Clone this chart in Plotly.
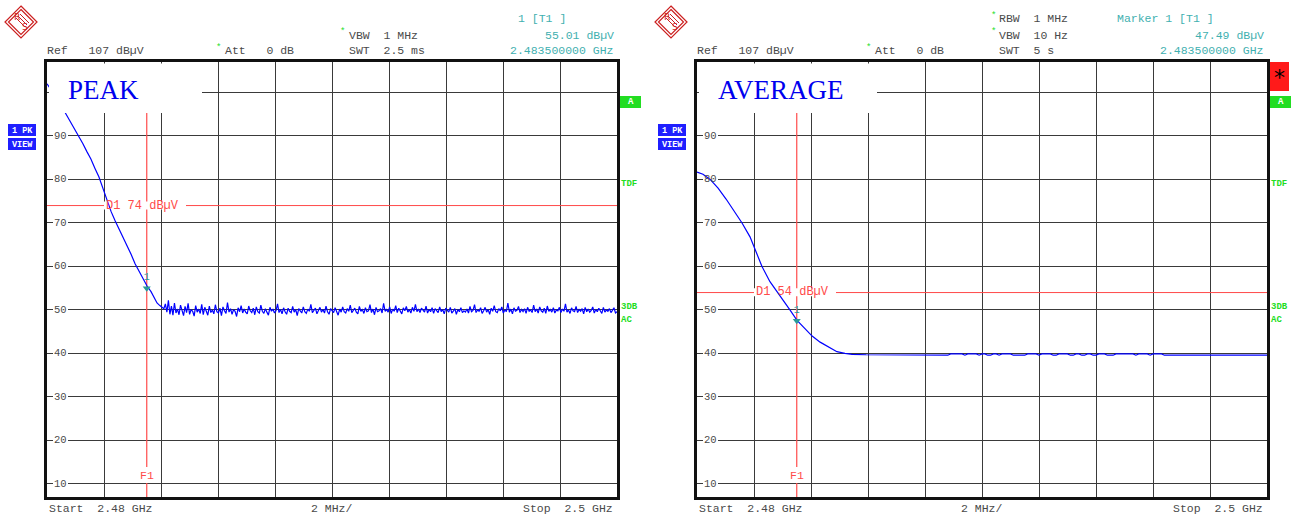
import numpy as np
import plotly.graph_objects as go

W, H = 1301, 516

# ---------------- data ----------------
# PEAK trace: roll-off part (MHz, dBuV)
peak_slope_freq = [2480.00, 2480.18, 2480.35, 2480.53, 2480.67, 2480.81, 2480.98, 2481.12,
                   2481.26, 2481.40, 2481.54, 2481.68, 2481.82, 2481.96, 2482.11, 2482.25,
                   2482.39, 2482.53, 2482.67, 2482.81, 2482.95, 2483.09, 2483.23, 2483.37,
                   2483.51, 2483.65, 2483.75, 2483.86, 2483.96, 2484.04]
peak_slope_val = [102.0, 100.4, 98.6, 96.6, 95.0, 93.4, 91.5, 90.0,
                  88.2, 86.4, 84.7, 82.6, 80.6, 78.0, 75.0, 72.6,
                  70.5, 68.6, 66.5, 64.7, 62.8, 60.6, 58.8, 57.0,
                  55.5, 54.2, 52.8, 51.6, 51.0, 50.6]
# PEAK trace: noise floor sweep points from 2484.10 to 2500 MHz
peak_noise_start, peak_noise_stop = 2484.10, 2500.0
peak_noise_val = [
    50.3, 51.4, 49.5, 52.2, 49.0, 50.9, 48.8, 51.6, 49.3, 50.2, 48.9, 51.1, 49.6, 48.7, 50.8, 49.4, 51.5, 49.0, 50.1, 49.7,
    48.6, 51.0, 49.5, 50.2, 49.2, 51.3, 48.9, 50.6, 49.7, 48.8, 50.9, 49.4, 50.0, 49.1, 51.2, 49.6, 49.3, 50.4, 48.7, 50.7,
    49.8, 49.2, 51.7, 49.5, 50.3, 49.0, 50.1, 49.7, 48.5, 50.5, 49.6, 51.0, 49.3, 50.2, 49.5, 49.1, 50.9, 49.8, 49.4, 50.4,
    48.9, 50.7, 49.6, 49.3, 51.1, 49.7, 49.2, 50.3, 49.5, 48.8, 50.6, 49.7, 50.2, 49.3, 49.8, 51.4, 49.4, 50.1, 49.1, 50.5,
    49.6, 49.0, 50.4, 49.7, 49.4, 50.8, 49.5, 50.1, 48.7, 50.3, 49.8, 49.3, 50.7, 49.6, 49.2, 50.2, 49.7, 51.3, 49.4, 49.8,
    50.4, 49.1, 49.7, 50.6, 49.5, 50.1, 49.3, 50.9, 49.6, 49.0, 50.3, 49.8, 49.4, 50.5, 49.7, 48.8, 50.2, 49.5, 50.7, 49.6,
    49.3, 50.3, 49.7, 51.1, 49.4, 49.8, 50.4, 49.5, 49.1, 50.8, 49.7, 50.1, 49.2, 50.5, 49.6, 49.8, 51.2, 49.4, 50.2, 48.9,
    50.6, 49.6, 49.8, 50.3, 49.3, 51.5, 49.7, 50.1, 49.5, 50.7, 49.2, 50.2, 49.7, 51.0, 49.4, 50.4, 49.6, 49.1, 50.5, 49.8,
    50.8, 49.5, 50.1, 49.3, 50.6, 49.7, 51.3, 49.6, 50.2, 49.4, 50.4, 49.8, 49.5, 50.9, 49.3, 50.1, 49.6, 50.5, 49.2, 50.3,
    49.7, 49.4, 50.7, 49.6, 50.1, 49.1, 50.4, 49.8, 49.5, 50.6, 49.3, 49.7, 50.3, 49.0, 50.1, 49.6, 50.5, 49.4, 49.8, 49.5,
    50.2, 49.3, 50.8, 49.6, 49.9, 51.2, 49.4, 50.0, 49.7, 50.5, 49.2, 49.8, 50.6, 49.5, 50.1, 49.0, 50.4, 49.7, 51.0, 49.6,
    49.4, 50.3, 49.8, 50.7, 49.3, 50.0, 49.6, 51.6, 49.5, 50.2, 49.1, 50.5, 49.7, 49.9, 50.8, 49.4, 50.1, 49.6, 50.3, 49.2,
    50.6, 49.7, 50.0, 49.4, 51.1, 49.6, 50.2, 49.3, 50.7, 49.8, 49.5, 50.4, 49.2, 50.9, 49.7, 50.1, 49.5, 50.5, 49.3, 50.0,
    49.8, 50.6, 49.4, 50.2, 49.7, 51.4, 49.5, 50.0, 49.2, 50.5, 49.8, 49.6, 50.8, 49.4, 50.1, 49.7, 50.3, 49.1, 50.6, 49.6,
    50.2, 49.5, 49.9, 50.7, 49.3, 50.1, 49.6, 50.4, 49.8, 49.2, 50.6, 49.5, 50.0, 49.7, 50.3, 49.4, 49.9, 50.5, 49.3, 49.6,
]

# AVERAGE trace: roll-off part
avg_slope_freq = [2480.00, 2480.21, 2480.46, 2480.74, 2481.02, 2481.30, 2481.58, 2481.86,
                  2482.04, 2482.28, 2482.56, 2482.84, 2483.09, 2483.26, 2483.51, 2483.79,
                  2484.04, 2484.32, 2484.67, 2484.91, 2485.19, 2485.44, 2485.93]
avg_slope_val = [81.7, 81.2, 80.0, 78.0, 75.5, 72.8, 70.0, 66.8,
                 64.0, 60.0, 56.5, 54.0, 51.5, 50.0, 47.6, 45.6,
                 44.0, 42.6, 41.2, 40.4, 40.0, 39.8, 39.7]
# AVERAGE trace: floor sweep points from 2486 to 2500 MHz
avg_tail_start, avg_tail_stop = 2486.0, 2500.0
avg_tail_val = (
    [39.7, 39.7, 39.65, 39.65, 39.6] + [39.6] * 24 +
    [39.9, 39.9, 39.9, 39.9, 39.9, 39.6, 39.9, 39.9, 39.9, 39.9,
     39.6, 39.9, 39.9, 39.6, 39.6, 39.9, 39.9, 39.6, 39.9, 39.9,
     39.9, 39.9, 39.6, 39.6, 39.6, 39.6, 39.6, 39.9, 39.9, 39.9,
     39.9, 39.6, 39.9, 39.9, 39.9, 39.9, 39.6, 39.6, 39.9, 39.9,
     39.9, 39.9, 39.6, 39.6, 39.9, 39.9, 39.6, 39.6, 39.9, 39.9,
     39.6, 39.6, 39.9, 39.9, 39.9, 39.6, 39.6, 39.6, 39.9, 39.9,
     39.9, 39.9, 39.9, 39.9, 39.9, 39.6, 39.9, 39.9, 39.9, 39.9,
     39.6, 39.9, 39.9, 39.9, 39.9] +
    [39.6] * 37
)

marker_freq = 2483.5
peak_marker_val = 55.01
avg_marker_val = 47.49
peak_limit = 74
avg_limit = 54
y_labels = [10, 20, 30, 40, 50, 60, 70, 80, 90]
x_range = [2480, 2500]
y_range = [7, 107]

# ---------------- helpers ----------------
def px(x):
    return x / W


def py(y):
    return 1 - y / H


MONO = "Liberation Mono"
GRAY = "#4a4a4a"
TEAL = "#3fb0b0"
GREEN = "#22dd22"
RED = "#ff4a4a"
PLOT_L = [47, 697]
PLOT_W = 570
PLOT_T, PLOT_B = 62, 497

peak_x = peak_slope_freq + list(np.linspace(peak_noise_start, peak_noise_stop, len(peak_noise_val)))
peak_y = peak_slope_val + peak_noise_val
avg_x = avg_slope_freq + list(np.linspace(avg_tail_start, avg_tail_stop, len(avg_tail_val)))
avg_y = avg_slope_val + avg_tail_val

fig = go.Figure()
fig.add_trace(go.Scatter(x=peak_x, y=peak_y, mode="lines", xaxis="x", yaxis="y",
                         line=dict(color="#0000ff", width=1.2), hoverinfo="skip"))
fig.add_trace(go.Scatter(x=avg_x, y=avg_y, mode="lines", xaxis="x2", yaxis="y2",
                         line=dict(color="#0000ff", width=1.2), hoverinfo="skip"))
for ax, val in (("", peak_marker_val), ("2", avg_marker_val)):
    fig.add_trace(go.Scatter(x=[marker_freq], y=[val], mode="markers+text", text=["1"],
                             textposition="top center",
                             textfont=dict(family=MONO, size=10, color="#2a9a9a"),
                             marker=dict(symbol="triangle-down", size=7, color="#2a9a9a"),
                             xaxis="x" + ax, yaxis="y" + ax, hoverinfo="skip"))

axis_common = dict(showgrid=True, gridcolor="#3a3a3a", gridwidth=1, showticklabels=False,
                   ticks="", zeroline=False, showline=True, linecolor="#111111",
                   linewidth=2.5, mirror=True, fixedrange=True)
ydom = [py(PLOT_B), py(PLOT_T)]
fig.update_layout(
    width=W, height=H, autosize=False,
    margin=dict(l=0, r=0, t=0, b=0),
    paper_bgcolor="white", plot_bgcolor="white", showlegend=False,
    xaxis=dict(domain=[px(PLOT_L[0]), px(PLOT_L[0] + PLOT_W)], range=x_range, tick0=2480, dtick=2,
               anchor="y", **axis_common),
    yaxis=dict(domain=ydom, range=y_range, tick0=0, dtick=10, anchor="x", **axis_common),
    xaxis2=dict(domain=[px(PLOT_L[1]), px(PLOT_L[1] + PLOT_W)], range=x_range, tick0=2480, dtick=2,
                anchor="y2", **axis_common),
    yaxis2=dict(domain=ydom, range=y_range, tick0=0, dtick=10, anchor="x2", **axis_common),
)

shapes = []
ann = []


def text(x, y, s, color=GRAY, size=11.5, anchor="left", family=MONO, bg=None, **kw):
    d = dict(x=px(x), y=py(y), xref="paper", yref="paper", text=s, showarrow=False,
             xanchor=anchor, yanchor="middle", font=dict(family=family, size=size, color=color),
             borderpad=0, borderwidth=0)
    if bg:
        d["bgcolor"] = bg
    d.update(kw)
    ann.append(d)


def rect(x0, y0, x1, y1, fill, layer="above"):
    shapes.append(dict(type="rect", xref="paper", yref="paper", x0=px(x0), x1=px(x1),
                       y0=py(y1), y1=py(y0), fillcolor=fill, line=dict(width=0), layer=layer))


def gap(i, x0, y0, x1, y1):
    """white gap drawn in the subplot between gridlines and the trace"""
    ax = "" if i == 0 else "2"
    L = PLOT_L[i]
    fx = lambda p: x_range[0] + (p - L) / PLOT_W * (x_range[1] - x_range[0])
    fy = lambda p: y_range[1] - (p - PLOT_T) / (PLOT_B - PLOT_T) * (y_range[1] - y_range[0])
    shapes.append(dict(type="rect", xref="x" + ax, yref="y" + ax, x0=fx(x0), x1=fx(x1),
                       y0=fy(y1), y1=fy(y0), fillcolor="white", line=dict(width=0), layer="between"))


def logo(cx, cy):
    def pth(pts):
        return "M " + " L ".join(f"{px(a)},{py(b)}" for a, b in pts) + " Z"
    for r in (16, 12.5):
        shapes.append(dict(type="path", xref="paper", yref="paper",
                           path=pth([(cx, cy - r), (cx + r, cy), (cx, cy + r), (cx - r, cy)]),
                           line=dict(color="#cc2020", width=1.2)))
    for k in (-2, 0, 2):
        shapes.append(dict(type="line", xref="paper", yref="paper",
                           x0=px(cx - 3 + k), y0=py(cy - 6 - k), x1=px(cx + 6 + k), y1=py(cy + 3 - k),
                           line=dict(color="#cc2020", width=1)))
    text(cx - 4, cy - 5, "R", color="#cc2020", size=9, anchor="center", family="DejaVu Sans")
    text(cx + 4, cy + 5, "S", color="#cc2020", size=9, anchor="center", family="DejaVu Sans")


panels = [
    dict(ox=0, ax="", title="PEAK", box_r=202, limit=peak_limit),
    dict(ox=650, ax="2", title="AVERAGE", box_r=877, limit=avg_limit),
]
for i, p in enumerate(panels):
    o = p["ox"]
    xa, ya = "x" + p["ax"], "y" + p["ax"]
    # limit line and frequency line
    shapes.append(dict(type="line", xref=xa, yref=ya, x0=2480, x1=2500, y0=p["limit"], y1=p["limit"],
                       line=dict(color=RED, width=1), layer="between"))
    shapes.append(dict(type="line", xref=xa, yref=ya, x0=marker_freq, x1=marker_freq, y0=7, y1=95.3,
                       line=dict(color=RED, width=1.2), layer="between"))
    # white title box
    rect(49 + o, 63.5, p["box_r"], 113, "white")
    text(69 + o - 1, 90, p["title"], color="#0000ee", size=27, family="Liberation Serif")
    # y labels: white gaps behind labels (below the trace), then the text
    for v in y_labels:
        yy = 62 + (107 - v) * 4.35
        gap(i, 53 + o, yy - 5, 68 + o, yy + 5)
        text(60.5 + o, yy, str(v), size=10.5, anchor="center")
    # limit label with gap in the red line
    ly = 205.6 if i == 0 else 292.3
    gap(i, 104 + o, ly - 4, 186 + o, ly + 4)
    text(106 + o, ly, f"D1 {p['limit']} dBµV", color=RED, size=12)
    gap(i, 140 + o, 467, 154 + o, 483)
    text(146.7 + o, 475, "F1", color=RED, size=11.5, anchor="center")
    # header
    logo(21 + o, 22)
    text(47 + o, 51, "Ref   107 dBµV")
    text(218 + o, 48, "*", color=GREEN, size=9, anchor="center")
    text(225 + o, 51, "Att   0 dB")
    # bottom
    text(49 + o, 508, "Start  2.48 GHz")
    text(311 + o, 508, "2 MHz/")
    text(613 + o, 508, "Stop  2.5 GHz", anchor="right")
    # side annotations
    rect(8 + o, 124, 36 + o, 136, "#1f1fff")
    rect(8 + o, 138, 36 + o, 150, "#1f1fff")
    text(22 + o, 130.5, "<b>1 PK</b>", color="white", size=8.5, anchor="center")
    text(22 + o, 144.5, "<b>VIEW</b>", color="white", size=8.5, anchor="center")
    rect(620 + o, 96, 641 + o, 108, "#22dd22")
    text(630.5 + o, 102, "<b>A</b>", color="white", size=9, anchor="center")
    text(621 + o, 184, "<b>TDF</b>", color=GREEN, size=9)
    text(621 + o, 307, "<b>3DB</b>", color=GREEN, size=9)
    text(621 + o, 320, "<b>AC</b>", color=GREEN, size=9)

# left header specifics
text(343, 32, "*", color=GREEN, size=9, anchor="center")
text(349, 35, "VBW  1 MHz")
text(349, 51, "SWT  2.5 ms")
text(518, 19, "1 [T1 ]", color=TEAL)
text(614, 35, "55.01 dBµV", color=TEAL, anchor="right")
text(614, 51, "2.483500000 GHz", color=TEAL, anchor="right")
# right header specifics
text(993, 16, "*", color=GREEN, size=9, anchor="center")
text(999, 19, "RBW  1 MHz")
text(993, 32, "*", color=GREEN, size=9, anchor="center")
text(999, 35, "VBW  10 Hz")
text(999, 51, "SWT  5 s")
text(1117, 19, "Marker 1 [T1 ]", color=TEAL)
text(1264, 35, "47.49 dBµV", color=TEAL, anchor="right")
text(1264, 51, "2.483500000 GHz", color=TEAL, anchor="right")
rect(1270, 62, 1289, 91, "#ff1a1a")
text(1279.5, 77, "*", color="black", size=22, anchor="center", family="DejaVu Sans")

fig.update_layout(shapes=shapes, annotations=ann)
fig.write_html("out.html", config={"displayModeBar": False},
               post_script="document.body.style.margin='0';document.body.style.padding='0';")
